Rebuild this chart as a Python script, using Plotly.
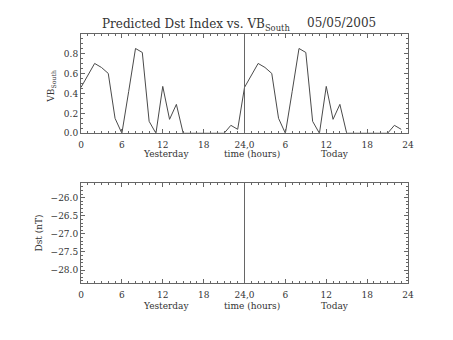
import plotly.graph_objects as go

# Hourly VB_South (mV/m) for yesterday and today, hours 0..23
HOURS = list(range(24))
VB_YESTERDAY = [0.46, 0.58, 0.70, 0.66, 0.60, 0.15, 0.00, 0.42, 0.85, 0.81, 0.12, 0.00,
                0.47, 0.14, 0.29, 0.00, 0.00, 0.00, 0.00, 0.00, 0.00, 0.00, 0.08, 0.04]
VB_TODAY = [0.46, 0.58, 0.70, 0.66, 0.60, 0.15, 0.00, 0.42, 0.85, 0.81, 0.12, 0.00,
            0.47, 0.14, 0.29, 0.00, 0.00, 0.00, 0.00, 0.00, 0.00, 0.00, 0.08, 0.04]
# Predicted Dst (nT): no values available
DST_HOURS = []
DST_VALUES = []

DAY_SPLIT = 24
X_TICKS = [0, 6, 12, 18, 24, 30, 36, 42, 48]
X_TICK_TEXT = ["0", "6", "12", "18", "24,0", "6", "12", "18", "24"]
VB_TICKS = [0.0, 0.2, 0.4, 0.6, 0.8]
DST_TICKS = [-26.0, -26.5, -27.0, -27.5, -28.0]

W, H = 453, 340
L, R = 81, 408
FONT = "DejaVu Serif"
INK = "#666666"
TEXT = "#333333"


def px(x):
    return (x - L) / (R - L)


def py(y):
    return 1 - y / H


hours_all = HOURS + [h + DAY_SPLIT for h in HOURS]
vb_all = VB_YESTERDAY + VB_TODAY

fig = go.Figure()
fig.add_trace(go.Scatter(x=hours_all, y=vb_all, mode="lines",
                         line=dict(color="#4a4a4a", width=1),
                         xaxis="x", yaxis="y", showlegend=False))
fig.add_trace(go.Scatter(x=DST_HOURS, y=DST_VALUES, mode="lines",
                         line=dict(color="#4a4a4a", width=1),
                         xaxis="x2", yaxis="y2", showlegend=False))

axis_common = dict(showline=True, linecolor=INK, linewidth=1, mirror="ticks",
                   ticks="inside", ticklen=4, tickcolor=INK, showgrid=False,
                   zeroline=False, tickfont=dict(family=FONT, size=9, color=TEXT))

xcommon = dict(axis_common, range=[0, 48], tickvals=X_TICKS, ticktext=X_TICK_TEXT,
               ticklabelstandoff=3,
               minor=dict(ticks="inside", ticklen=2, dtick=1, tickcolor=INK, showgrid=False))

fig.update_layout(
    width=W, height=H, margin=dict(l=L, r=W - R, t=0, b=0),
    paper_bgcolor="white", plot_bgcolor="white",
    xaxis=dict(xcommon, domain=[0, 1], anchor="y"),
    yaxis=dict(axis_common, domain=[py(135.3), py(34)], range=[0, 1.0],
               tickvals=VB_TICKS, tickformat=".1f", anchor="x",
               minor=dict(ticks="inside", ticklen=2, dtick=0.05, tickcolor=INK, showgrid=False)),
    xaxis2=dict(xcommon, domain=[0, 1], anchor="y2"),
    yaxis2=dict(axis_common, domain=[py(287.7), py(186)], range=[-28.37, -25.6],
                tickvals=DST_TICKS, tickformat=".1f", anchor="x2",
                minor=dict(ticks="inside", ticklen=2, dtick=0.1, tickcolor=INK, showgrid=False)),
)

# day divider in both panels
for xr, yr in (("x", "y domain"), ("x2", "y2 domain")):
    fig.add_shape(type="line", xref=xr, yref=yr, x0=DAY_SPLIT, x1=DAY_SPLIT, y0=0, y1=1,
                  line=dict(color=INK, width=1))

txt = dict(family=FONT, size=9, color=TEXT)
ann = [
    dict(text="Predicted Dst Index vs. VB<sub>South</sub>", x=px(100), y=py(25),
         xanchor="left", yanchor="middle", font=dict(family=FONT, size=12, color=TEXT)),
    dict(text="05/05/2005", x=px(305), y=py(23), xanchor="left", yanchor="middle",
         font=dict(family=FONT, size=12, color=TEXT)),
    dict(text="VB<sub>South</sub>", x=px(52), y=py(88), textangle=-90,
         xanchor="center", yanchor="middle", font=txt),
    dict(text="Dst (nT)", x=px(39), y=py(237), textangle=-90,
         xanchor="center", yanchor="middle", font=txt),
]
for ybase in (156, 310.7):
    for label, xc in (("Yesterday", 166), ("time (hours)", 252), ("Today", 334.5)):
        ann.append(dict(text=label, x=px(xc), y=py(ybase), xanchor="center",
                        yanchor="middle", font=txt))
for a in ann:
    a.update(xref="paper", yref="paper", showarrow=False)
fig.update_layout(annotations=ann)

fig.write_html("out.html")
